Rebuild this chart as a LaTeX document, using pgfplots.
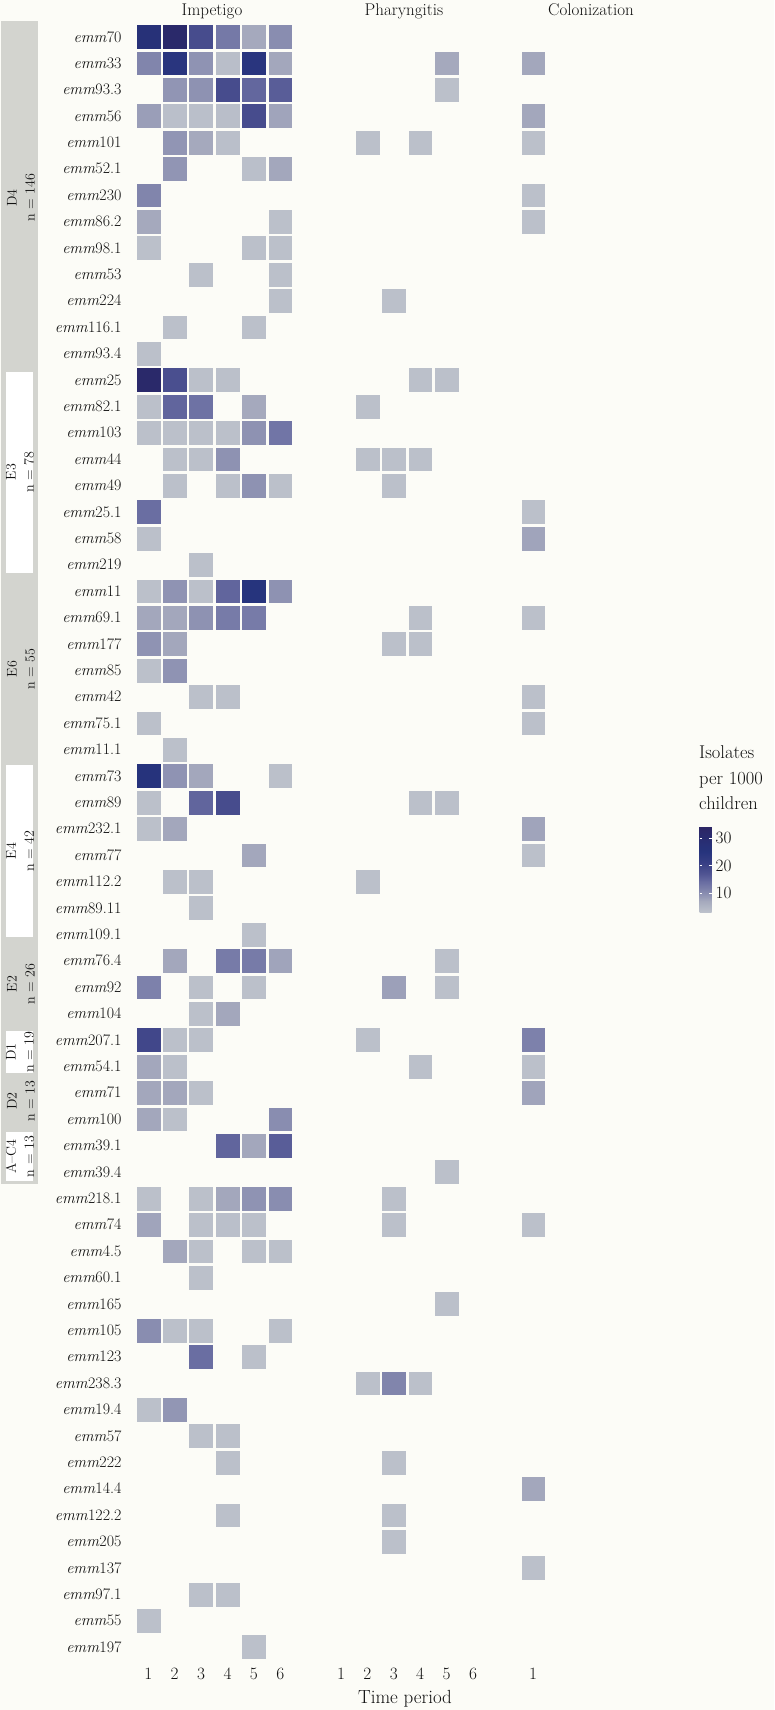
\documentclass[border=0pt]{standalone}
\usepackage{pgfplots}
\pgfplotsset{compat=1.18}
\usepackage{pgfplotstable}
\definecolor{bg}{HTML}{FCFCF7}
\definecolor{stripgray}{HTML}{D3D4CF}
\definecolor{txt}{HTML}{111111}
\newcommand{\emmx}{\textit{emm}}

\pgfplotstableread{
x y v
1 62 27
2 62 32
3 62 18.5
4 62 12.5
5 62 7.1
6 62 10
1 61 11
2 61 24.5
3 61 9.3
4 61 3.6
5 61 24.5
6 61 7.3
2 60 9.1
3 60 9.5
4 60 18.5
5 60 14.8
6 60 16
1 59 8.2
2 59 3.5
3 59 3.5
4 59 3.6
5 59 18.5
6 59 7.6
2 58 9.1
3 58 7.1
4 58 3.5
2 57 9.1
5 57 3.5
6 57 7.3
1 56 11
1 55 7.1
6 55 3.3
1 54 3.3
5 54 3.3
6 54 3.3
3 53 3.3
6 53 3.3
6 52 3.3
2 51 3.3
5 51 3.3
1 50 3.3
1 49 32
2 49 18
3 49 3.3
4 49 3.3
1 48 3.3
2 48 15
3 48 13.5
5 48 7.1
1 47 3.3
2 47 3.3
3 47 3.3
4 47 3.3
5 47 9.5
6 47 13
2 46 3.3
3 46 3.3
4 46 9.5
2 45 3.3
4 45 3.3
5 45 9.5
6 45 3.3
1 44 14
1 43 3.3
3 42 3.3
1 41 3.3
2 41 9.3
3 41 3.3
4 41 15
5 41 25
6 41 9.5
1 40 7.3
2 40 7.3
3 40 9.5
4 40 12.3
5 40 12.3
1 39 9.3
2 39 7.3
1 38 3.3
2 38 9.3
3 37 3.3
4 37 3.3
1 36 3.3
2 35 3.3
1 34 25.5
2 34 9.3
3 34 7.3
6 34 3.3
1 33 3.3
3 33 15
4 33 18.5
1 32 3.3
2 32 7.3
5 31 7.3
2 30 3.3
3 30 3.3
3 29 3.3
5 28 3.3
2 27 7.3
4 27 12.3
5 27 12.3
6 27 7.6
1 26 11.5
3 26 3.3
5 26 3.3
3 25 3.3
4 25 7.3
1 24 19.5
2 24 3.3
3 24 3.3
1 23 7.3
2 23 3.3
1 22 7.3
2 22 7.3
3 22 3.3
1 21 7.3
2 21 3.3
6 21 10
4 20 15
5 20 7.3
6 20 16
1 18 3.3
3 18 3.3
4 18 7.3
5 18 9.3
6 18 10
1 17 7.6
3 17 3.3
4 17 3.5
5 17 3.3
2 16 7.3
3 16 3.3
5 16 3.3
6 16 3.3
3 15 3.3
1 13 10
2 13 3.3
3 13 3.3
6 13 3.3
3 12 14
5 12 3.3
1 10 3.3
2 10 9
3 9 3.3
4 9 3.3
4 8 3.3
4 6 3.3
3 3 3.3
4 3 3.3
1 2 3.3
5 1 3.3
}\tabimp

\pgfplotstableread{
x y v
5 61 7.1
5 60 3.3
2 58 3.3
4 58 3.3
3 52 3.3
4 49 3.3
5 49 3.3
2 48 3.3
2 46 3.3
3 46 3.3
4 46 3.3
3 45 3.3
4 40 3.3
3 39 3.3
4 39 3.3
4 33 3.3
5 33 3.3
2 30 3.3
5 27 3.3
3 26 8
5 26 3.3
2 24 3.3
4 23 3.3
5 19 3.3
3 18 3.3
3 17 3.3
5 14 3.3
2 11 3.3
3 11 11
4 11 3.3
3 8 3.3
3 6 3.3
3 5 3.3
}\tabpha

\pgfplotstableread{
x y v
1 61 7.3
1 59 7.3
1 58 3.3
1 56 3.3
1 55 3.3
1 44 3.3
1 43 7.6
1 40 3.3
1 37 3.3
1 36 3.3
1 32 7.6
1 31 3.3
1 24 11.5
1 23 3.3
1 22 7.6
1 17 3.3
1 7 7.3
1 4 3.3
}\tabcol

\pgfplotsset{
  colormap={iso}{rgb255(0cm)=(188,193,203); rgb255(4cm)=(165,169,189); rgb255(6cm)=(145,149,180); rgb255(8cm)=(128,132,172); rgb255(11cm)=(105,109,162); rgb255(14cm)=(80,84,146); rgb255(18cm)=(55,62,132); rgb255(22cm)=(38,52,125); rgb255(31.3cm)=(44,37,100)},
  hm/.style={
    scale only axis, height=1636.8pt, anchor=south west,
    ymin=0.5, ymax=62.5, xmin=0.5,
    axis line style={draw=none}, tick style={draw=none}, major tick length=0pt,
    colormap name=iso, point meta min=3.1, point meta max=34.4,
    xticklabel style={font=\fontsize{18}{18}\selectfont, text=txt, anchor=base, yshift=-19pt, inner sep=0pt},
    ytick=\empty,
  },
  hmtiles/.style={scatter, only marks, mark=square*, mark size=11.4pt, scatter src=explicit,
    scatter/use mapped color={draw=mapped color, fill=mapped color}},
}

\begin{document}
\begin{tikzpicture}
\path[use as bounding box] (0pt,0pt) rectangle (774pt,1710pt);
\fill[bg] (0pt,0pt) rectangle (774pt,1710pt);

% strips
\fill[stripgray] (1pt,1689.3pt) rectangle (38pt,526pt);
\fill[white] (6pt,1338.3pt) rectangle (33pt,1137pt);
\fill[white] (5.5pt,945pt) rectangle (32.5pt,773pt);
\fill[white] (6pt,679.3pt) rectangle (33pt,636.7pt);
\fill[white] (6pt,578pt) rectangle (33pt,529pt);
\begin{scope}[every node/.style={rotate=90, align=center, text=txt, font=\fontsize{14}{18}\selectfont, inner sep=0pt}]
\node at (21pt,1512pt) {D4\\n = 146};
\node at (20pt,1238pt) {E3\\n = 78};
\node at (21pt,1041pt) {E6\\n = 55};
\node at (20pt,859pt) {E4\\n = 42};
\node at (21pt,726pt) {E2\\n = 26};
\node at (20pt,658pt) {D1\\n = 19};
\node at (21pt,609pt) {D2\\n = 13};
\node at (20pt,553.5pt) {A--C4\\n = 13};
\end{scope}

\begin{axis}[hm, at={(135.1pt,49.7pt)}, width=158.4pt, xmax=6.5, xtick={1,...,6},
  ytick={1,...,62},
  yticklabel style={font=\fontsize{16}{18}\selectfont, text=txt, anchor=east, inner sep=0pt, xshift=-13.4pt},
  yticklabels={\emmx197,\emmx55,\emmx97.1,\emmx137,\emmx205,\emmx122.2,\emmx14.4,\emmx222,\emmx57,\emmx19.4,\emmx238.3,\emmx123,\emmx105,\emmx165,\emmx60.1,\emmx4.5,\emmx74,\emmx218.1,\emmx39.4,\emmx39.1,\emmx100,\emmx71,\emmx54.1,\emmx207.1,\emmx104,\emmx92,\emmx76.4,\emmx109.1,\emmx89.11,\emmx112.2,\emmx77,\emmx232.1,\emmx89,\emmx73,\emmx11.1,\emmx75.1,\emmx42,\emmx85,\emmx177,\emmx69.1,\emmx11,\emmx219,\emmx58,\emmx25.1,\emmx49,\emmx44,\emmx103,\emmx82.1,\emmx25,\emmx93.4,\emmx116.1,\emmx224,\emmx53,\emmx98.1,\emmx86.2,\emmx230,\emmx52.1,\emmx101,\emmx56,\emmx93.3,\emmx33,\emmx70},
]
\addplot[hmtiles] table[x=x, y=y, meta=v] {\tabimp};
\end{axis}

\begin{axis}[hm, at={(327.8pt,49.7pt)}, width=158.4pt, xmax=6.5, xtick={1,...,6}, ytick=\empty]
\addplot[hmtiles] table[x=x, y=y, meta=v] {\tabpha};
\end{axis}

\begin{axis}[hm, at={(520pt,49.7pt)}, width=26.4pt, xmax=1.5, xtick={1}, ytick=\empty,
  colorbar,
  colorbar style={
    at={(parent axis.north east)}, anchor=north west, xshift=144.6pt, yshift=-802.5pt,
    width=12pt, height=86pt, scale only axis, y dir=normal,
    ytick={10,20,30}, axis line style={draw=none},
    tick style={draw=white, line width=0.7pt}, major tick length=2.5pt, tick align=inside,
    yticklabel style={font=\fontsize{17}{17}\selectfont, text=txt, inner sep=0pt, xshift=4pt},
  },
]
\addplot[hmtiles] table[x=x, y=y, meta=v] {\tabcol};
\end{axis}

% facet titles
\node[anchor=base, font=\fontsize{17}{17}\selectfont, text=txt] at (212pt,1694pt) {Impetigo};
\node[anchor=base, font=\fontsize{17}{17}\selectfont, text=txt] at (404pt,1694pt) {Pharyngitis};
\node[anchor=base west, font=\fontsize{17}{17}\selectfont, text=txt, inner sep=0pt] at (548pt,1694pt) {Colonization};
% x title
\node[anchor=base, font=\fontsize{19}{19}\selectfont, text=txt] at (405pt,6.7pt) {Time period};
% legend title
\begin{scope}[every node/.style={anchor=base west, inner sep=0pt, font=\fontsize{18.5}{18.5}\selectfont, text=txt}]
\node at (699pt,951pt) {Isolates};
\node at (699pt,925.5pt) {per 1000};
\node at (699pt,900pt) {children};
\end{scope}
\end{tikzpicture}
\end{document}
